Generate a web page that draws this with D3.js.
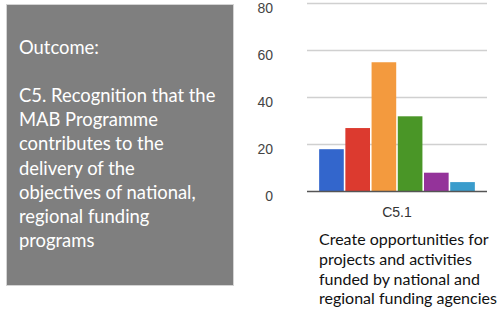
<!DOCTYPE html>
<html>
<head>
<meta charset="utf-8">
<script src="https://cdn.jsdelivr.net/npm/d3@7"></script>
<style>
  body { margin: 0; background: #fff; }
</style>
</head>
<body>
<div id="chart"></div>
<script>
const categories = ['C5.1'];
const seriesNames = ['s1', 's2', 's3', 's4', 's5', 's6'];
const seriesValues = [18, 27, 55, 32, 8, 4];
const seriesColors = ['#3366cc', '#dc3a2f', '#f39a3e', '#4a9627', '#94339a', '#3a9ccc'];
const yTicks = [0, 20, 40, 60, 80];
const outcomeLines = ['Outcome:', '', 'C5. Recognition that the', 'MAB Programme', 'contributes to the',
  'delivery of the', 'objectives of national,', 'regional funding', 'programs'];
const captionLines = ['Create opportunities for', 'projects and activities',
  'funded by national and', 'regional funding agencies'];

const width = 503, height = 312;
const svg = d3.select('#chart').append('svg')
  .attr('width', width)
  .attr('height', height);

// outcome box on the left
svg.append('rect')
  .attr('x', 6.5).attr('y', 4.5)
  .attr('width', 227).attr('height', 281)
  .attr('fill', '#7f7f7f')
  .attr('stroke', '#d4d4d4');

svg.append('g')
  .selectAll('text')
  .data(outcomeLines)
  .enter()
  .append('text')
  .attr('x', 19)
  .attr('y', (d, i) => 54 + i * 24.1)
  .attr('fill', '#fff')
  .attr('font-family', 'Lato, "Open Sans", sans-serif')
  .attr('font-size', 18.4)
  .text(d => d);

// chart
const x0 = d3.scaleBand().domain(categories).range([307, 487]).paddingInner(0).paddingOuter(0.078);
const x1 = d3.scaleBand().domain(seriesNames).range([0, x0.bandwidth()]).paddingInner(0.06);
const y = d3.scaleLinear().domain([0, 80]).range([191.5, 3.5]);

svg.append('g')
  .selectAll('line')
  .data(yTicks.filter(d => d > 0))
  .enter()
  .append('line')
  .attr('x1', 307).attr('x2', 487)
  .attr('y1', d => y(d)).attr('y2', d => y(d))
  .attr('stroke', '#d0d0d0')
  .attr('stroke-width', 1.3);

svg.append('g')
  .selectAll('text')
  .data(yTicks)
  .enter()
  .append('text')
  .attr('x', 273)
  .attr('y', d => y(d) + 9)
  .attr('text-anchor', 'end')
  .attr('fill', '#444')
  .attr('font-family', '"Liberation Sans", Arial, sans-serif')
  .attr('font-size', 14)
  .text(d => d);

const group = svg.append('g')
  .attr('transform', `translate(${x0(categories[0])},0)`);

group.selectAll('rect')
  .data(seriesValues)
  .enter()
  .append('rect')
  .attr('x', (d, i) => x1(seriesNames[i]))
  .attr('y', d => y(d))
  .attr('width', x1.bandwidth())
  .attr('height', d => y(0) - y(d))
  .attr('fill', (d, i) => seriesColors[i]);

svg.append('line')
  .attr('x1', 307).attr('x2', 487)
  .attr('y1', y(0)).attr('y2', y(0))
  .attr('stroke', '#555')
  .attr('stroke-width', 1.3);

svg.append('text')
  .attr('x', x0(categories[0]) + x0.bandwidth() / 2)
  .attr('y', 217)
  .attr('text-anchor', 'middle')
  .attr('fill', '#333')
  .attr('font-family', '"Liberation Sans", Arial, sans-serif')
  .attr('font-size', 14)
  .text(categories[0]);

svg.append('g')
  .selectAll('text')
  .data(captionLines)
  .enter()
  .append('text')
  .attr('x', 319)
  .attr('y', (d, i) => 245 + i * 19.8)
  .attr('fill', '#111')
  .attr('font-family', 'Lato, "Open Sans", sans-serif')
  .attr('font-size', 16)
  .text(d => d);
</script>
</body>
</html>
